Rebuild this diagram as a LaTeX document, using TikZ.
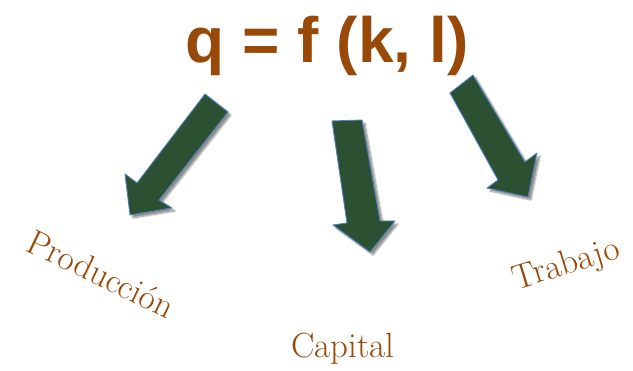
\documentclass[tikz,border=0pt]{standalone}
\usepackage{fontspec}
\usepackage{tikz}
\usepackage{xcolor}
\usetikzlibrary{positioning,shadows.blur}
\newfontfamily\formulafont{Liberation Sans}
\definecolor{rust}{HTML}{984807}
\definecolor{leaf}{HTML}{2B5032}
\definecolor{rim}{HTML}{4F81BD}
\tikzset{
  formula/.style={text=rust,font=\formulafont\bfseries\fontsize{64}{64}\selectfont,
                  inner sep=0pt,anchor=base},
  factor/.style={text=rust,font=\fontsize{35}{35}\selectfont,
                 inner sep=0pt,anchor=base},
  blockarrow/.style={fill=leaf,draw=rim,line width=0.9pt,line join=round,
                     blur shadow={shadow xshift=3pt,shadow yshift=-3pt,
                                  shadow blur steps=6,shadow opacity=45}}
}
\begin{document}
\begin{tikzpicture}[x=1pt,y=-1pt]
    \path[use as bounding box] (0,0) rectangle (633,371);
    \node[formula] (eq) at (327,63) {q = f (k, l)};

    % block arrows
    \draw[blockarrow] (205,94) -- (228,112) -- (159,200) -- (172,208)
      -- (130,215) -- (125,174) -- (137,183) -- cycle;
    \draw[blockarrow] (332,121) -- (362,120) -- (380,221) -- (395,221)
      -- (370,252) -- (333,225) -- (347,223) -- cycle;
    \draw[blockarrow] (450,93) -- (473,75) -- (525,162) -- (537,153)
      -- (528,197) -- (487,188) -- (498,180) -- cycle;

    \node[factor,rotate=-26] (prod) at (96,285) {Producción};
    \node[factor] (cap) at (343,358) {Capital};
    \node[factor,rotate=17] (trab) at (569,274) {Trabajo};
  \end{tikzpicture}
\end{document}
